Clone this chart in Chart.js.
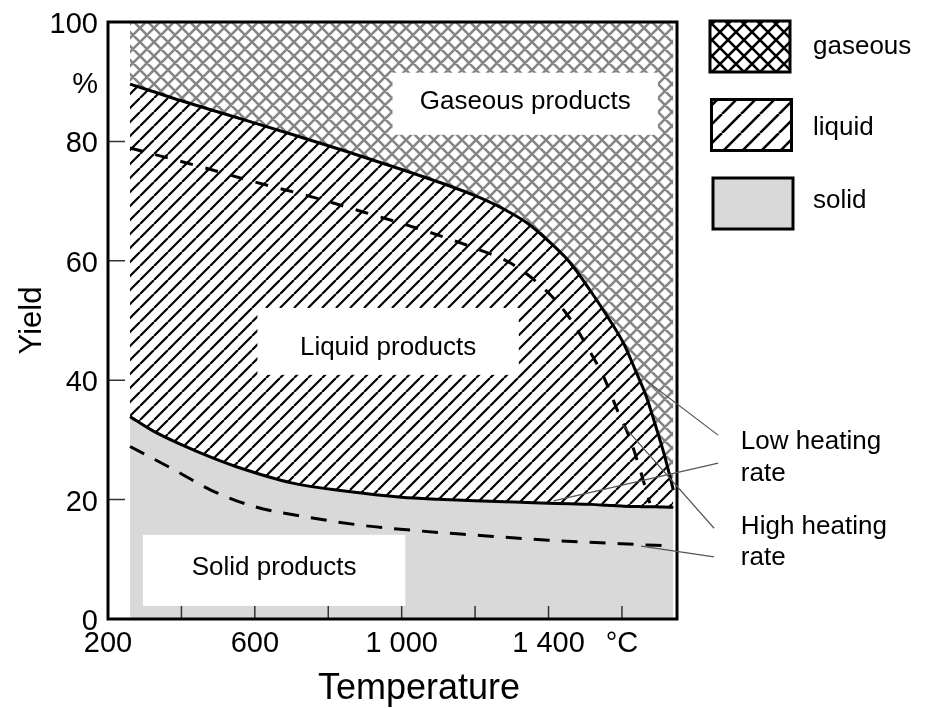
<!DOCTYPE html>
<html>
<head>
<meta charset="utf-8">
<script src="https://cdn.jsdelivr.net/npm/chart.js@4.4.1/dist/chart.umd.min.js"></script>
<style>
  body { margin: 0; background: #fff; }
  #c { display: block; }
</style>
</head>
<body>
<canvas id="c" width="928" height="708"></canvas>
<script>
// temperatures (°C)
const temps = [260, 320, 400, 480, 550, 700, 850, 1000, 1100, 1200, 1280, 1340, 1400, 1460, 1515, 1560, 1605, 1635, 1665, 1690, 1715, 1740];
// low heating rate: top of liquid band and top of solid band (solid lines)
const liquidTop = [89.6, 88.4, 86.8, 85.3, 84.0, 81.2, 78.3, 75.3, 73.2, 70.9, 68.6, 66.4, 63.3, 59.6, 54.9, 50.7, 46.1, 41.9, 37.5, 32.7, 27.6, 21.6];
const solidTop = [33.9, 31.6, 29.2, 27.1, 25.5, 22.8, 21.4, 20.4, 20.05, 19.8, 19.65, 19.5, 19.4, 19.3, 19.2, 19.05, 18.9, 18.85, 18.8, 18.8, 18.75, 18.7];

// high heating rate (dashed lines)
const hiTemps = [260, 450, 600, 750, 900, 1050, 1200, 1300, 1400, 1460, 1510, 1550, 1590, 1620, 1650, 1676];
const hiLiquidTop = [78.9, 75.8, 73.2, 70.8, 68.1, 65.3, 62.1, 59.5, 54.6, 50.2, 45.1, 40.6, 34.6, 30.5, 24.9, 19.4];
const loTemps = [260, 380, 480, 600, 740, 890, 1040, 1190, 1400, 1600, 1740];
const hiSolidTop = [28.9, 25.0, 21.6, 18.8, 17.1, 15.7, 14.8, 14.1, 13.2, 12.6, 12.2];

// tick labels
const xTickLabels = { 200: '200', 600: '600', 1000: '1 000', 1400: '1 400', 1600: '°C' };
const yTickLabels = { 0: '0', 20: '20', 40: '40', 60: '60', 80: '80', 90: '%', 100: '100' };

// region labels (white boxes) in data units
const regionLabels = [
  { text: 'Gaseous products', t0: 975, t1: 1698, v0: 81.1, v1: 91.5, vt: 86.6 },
  { text: 'Liquid products', t0: 607, t1: 1319, v0: 40.9, v1: 52.1, vt: 45.4 },
  { text: 'Solid products', t0: 295, t1: 1010, v0: 2.2, v1: 14.1, vt: 8.5 }
];
const notes = [
  { text: 'Low heating', t: 1924, v: 29.6 },
  { text: 'rate', t: 1924, v: 24.3 },
  { text: 'High heating', t: 1924, v: 15.4 },
  { text: 'rate', t: 1924, v: 10.2 }
];
const leaders = [
  [1862, 30.8, 1665, 40.0],
  [1862, 26.1, 1414, 19.8],
  [1851, 15.2, 1602, 32.5],
  [1851, 10.4, 1652, 12.2]
];

const FONT = '"Liberation Sans", Arial, sans-serif';
const GRAY = '#d9d9d9';

function makePattern(size, color, width, cross) {
  const c = document.createElement('canvas');
  c.width = c.height = size;
  const g = c.getContext('2d');
  g.fillStyle = '#fff';
  g.fillRect(0, 0, size, size);
  g.strokeStyle = color;
  g.lineWidth = width;
  g.beginPath();
  for (let k = -1; k <= 1; k++) {
    g.moveTo(k * size, size);
    g.lineTo(k * size + size, 0);
    if (cross) {
      g.moveTo(k * size, 0);
      g.lineTo(k * size + size, size);
    }
  }
  g.stroke();
  return g.createPattern(c, 'repeat');
}

const crossFill = makePattern(14, '#868686', 2.6, true);
const diagFill = makePattern(14, '#000', 2.2, false);
const legendCross = makePattern(16, '#000', 2.6, true);
const legendDiag = makePattern(19, '#000', 2.6, false);

const legendItems = [
  { label: 'gaseous', fill: legendCross, ty: 26 },
  { label: 'liquid', fill: legendDiag, ty: 28.5 },
  { label: 'solid', fill: GRAY, ty: 23 }
];

const pts = (xs, ys) => xs.map((t, i) => ({ x: t, y: ys[i] }));

const overlay = {
  id: 'overlay',
  afterDatasetsDraw(chart) {
    const { ctx, chartArea: a, scales: { x, y } } = chart;
    ctx.save();

    // white label boxes
    regionLabels.forEach(b => {
      const x0 = x.getPixelForValue(b.t0), x1 = x.getPixelForValue(b.t1);
      const y0 = y.getPixelForValue(b.v1), y1 = y.getPixelForValue(b.v0);
      ctx.fillStyle = '#fff';
      ctx.fillRect(x0, y0, x1 - x0, y1 - y0);
      ctx.fillStyle = '#000';
      ctx.font = '26px ' + FONT;
      ctx.textAlign = 'center';
      ctx.textBaseline = 'middle';
      ctx.fillText(b.text, (x0 + x1) / 2, y.getPixelForValue(b.vt));
    });

    // small ticks inside the frame
    ctx.strokeStyle = '#333';
    ctx.lineWidth = 1.5;
    ctx.beginPath();
    for (let t = 400; t <= 1600; t += 200) {
      const px = x.getPixelForValue(t);
      ctx.moveTo(px, a.bottom);
      ctx.lineTo(px, a.bottom - 13);
    }
    [20, 40, 60, 80].forEach(v => {
      const py = y.getPixelForValue(v);
      ctx.moveTo(a.left, py);
      ctx.lineTo(a.left + 17, py);
    });
    ctx.stroke();

    // frame
    ctx.strokeStyle = '#000';
    ctx.lineWidth = 3;
    ctx.strokeRect(a.left, a.top, a.right - a.left, a.bottom - a.top);

    // leader lines
    ctx.strokeStyle = '#555';
    ctx.lineWidth = 1.2;
    ctx.beginPath();
    leaders.forEach(l => {
      ctx.moveTo(x.getPixelForValue(l[0]), y.getPixelForValue(l[1]));
      ctx.lineTo(x.getPixelForValue(l[2]), y.getPixelForValue(l[3]));
    });
    ctx.stroke();

    ctx.fillStyle = '#000';
    ctx.font = '26px ' + FONT;
    ctx.textAlign = 'left';
    ctx.textBaseline = 'middle';
    notes.forEach(n => ctx.fillText(n.text, x.getPixelForValue(n.t), y.getPixelForValue(n.v)));

    // legend
    legendItems.forEach((it, i) => {
      const lx = a.right + 33 + i * 1.5, ly = a.top - 1 + i * 78.5;
      ctx.fillStyle = it.fill;
      ctx.fillRect(lx, ly, 80, 51);
      ctx.strokeStyle = '#000';
      ctx.lineWidth = 3;
      ctx.strokeRect(lx, ly, 80, 51);
      ctx.fillStyle = '#000';
      ctx.fillText(it.label, a.right + 136, ly + it.ty);
    });

    // x axis title
    ctx.font = '36px ' + FONT;
    ctx.textAlign = 'center';
    ctx.fillText('Temperature', 419, a.bottom + 70);
    ctx.restore();
  }
};

Chart.defaults.font.family = FONT;
Chart.defaults.color = '#000';

new Chart(document.getElementById('c'), {
  type: 'line',
  data: {
    datasets: [
      {
        data: pts(temps, liquidTop),
        borderColor: '#000', borderWidth: 3,
        backgroundColor: crossFill, fill: 'end'
      },
      {
        data: pts(temps, solidTop),
        borderColor: '#000', borderWidth: 3,
        backgroundColor: GRAY, fill: 'origin'
      },
      {
        data: pts(hiTemps, hiLiquidTop),
        borderColor: '#000', borderWidth: 3, borderDash: [13, 13],
        fill: false
      },
      {
        data: pts(loTemps, hiSolidTop),
        borderColor: '#000', borderWidth: 3, borderDash: [16, 12],
        fill: false
      },
      {
        data: pts(temps, liquidTop),
        borderWidth: 0, borderColor: 'rgba(0,0,0,0)',
        backgroundColor: diagFill, fill: 1
      }
    ]
  },
  options: {
    responsive: false,
    animation: false,
    devicePixelRatio: 1,
    layout: { padding: { top: 22, right: 251, left: 0, bottom: 0 } },
    elements: {
      point: { radius: 0 },
      line: { cubicInterpolationMode: 'monotone' }
    },
    plugins: {
      legend: { display: false },
      tooltip: { enabled: false },
      filler: { drawTime: 'beforeDatasetsDraw' }
    },
    scales: {
      x: {
        type: 'linear', min: 200, max: 1750,
        grid: { display: false },
        border: { display: false },
        ticks: {
          stepSize: 200, includeBounds: false, autoSkip: false, maxRotation: 0, padding: 0,
          font: { size: 29 },
          callback: v => xTickLabels[v] || ''
        },
        afterFit: s => { s.height = 89; s.paddingLeft = 0; s.paddingRight = 0; }
      },
      y: {
        min: 0, max: 100,
        grid: { display: false },
        border: { display: false },
        ticks: {
          stepSize: 10, autoSkip: false, padding: 2, labelOffset: 3,
          font: { size: 29 },
          callback: v => (v in yTickLabels ? yTickLabels[v] : '')
        },
        title: {
          display: true, text: 'Yield',
          font: { size: 31 }, padding: { top: 14, bottom: 0 }
        },
        afterFit: s => { s.width = 108; s.paddingTop = 0; s.paddingBottom = 0; }
      }
    }
  },
  plugins: [overlay]
});
</script>
</body>
</html>
